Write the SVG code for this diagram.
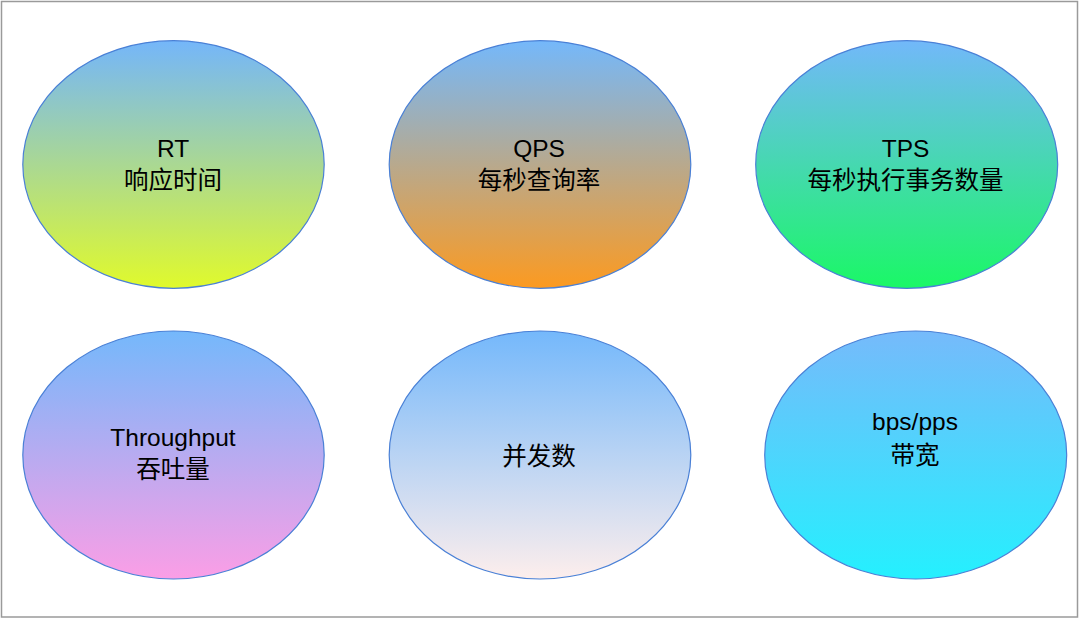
<svg xmlns="http://www.w3.org/2000/svg" width="1080" height="619" viewBox="0 0 1080 619">
<style>
.node ellipse{stroke:#4a80d6;stroke-width:1.2}
text{font-family:"Liberation Sans","Noto Sans CJK SC",sans-serif;font-size:24.5px;fill:#000;text-anchor:middle}
</style>
<defs>
<linearGradient id="g1" x1="0" y1="0" x2="0" y2="1"><stop offset="0" stop-color="#74b6fa"/><stop offset="1" stop-color="#e0fa2c"/></linearGradient>
<linearGradient id="g2" x1="0" y1="0" x2="0" y2="1"><stop offset="0" stop-color="#74b8fb"/><stop offset="1" stop-color="#fc9a20"/></linearGradient>
<linearGradient id="g3" x1="0" y1="0" x2="0" y2="1"><stop offset="0" stop-color="#72b8fa"/><stop offset="1" stop-color="#1af866"/></linearGradient>
<linearGradient id="g4" x1="0" y1="0" x2="0" y2="1"><stop offset="0" stop-color="#74b8fb"/><stop offset="1" stop-color="#fb9ee6"/></linearGradient>
<linearGradient id="g5" x1="0" y1="0" x2="0" y2="1"><stop offset="0" stop-color="#74b8fb"/><stop offset="1" stop-color="#fdeeec"/></linearGradient>
<linearGradient id="g6" x1="0" y1="0" x2="0" y2="1"><stop offset="0" stop-color="#76bafb"/><stop offset="1" stop-color="#24f0fe"/></linearGradient>
</defs>
<rect x="0" y="0" width="1080" height="619" fill="#fff"/>
<rect x="1.5" y="1.5" width="1076" height="615.5" fill="none" stroke="#9a9a9a" stroke-width="1.5"/>
<g id="connectors"></g>
<g id="rt" class="node"><ellipse cx="173.5" cy="164.5" rx="150.7" ry="123.8" fill="url(#g1)"/><text x="173" y="157">RT</text><text x="173" y="189">响应时间</text></g>
<g id="qps" class="node"><ellipse cx="540" cy="164.5" rx="150.8" ry="123.8" fill="url(#g2)"/><text x="539" y="157">QPS</text><text x="539" y="189">每秒查询率</text></g>
<g id="tps" class="node"><ellipse cx="906.7" cy="164.5" rx="151" ry="123.8" fill="url(#g3)"/><text x="905.5" y="157">TPS</text><text x="905.5" y="189">每秒执行事务数量</text></g>
<g id="throughput" class="node"><ellipse cx="173.5" cy="455" rx="150.7" ry="124" fill="url(#g4)"/><text x="173" y="446">Throughput</text><text x="173" y="478">吞吐量</text></g>
<g id="concurrency" class="node"><ellipse cx="540" cy="455" rx="150.8" ry="124" fill="url(#g5)"/><text x="539" y="465">并发数</text></g>
<g id="bandwidth" class="node"><ellipse cx="915.7" cy="455" rx="151" ry="124" fill="url(#g6)"/><text x="915" y="430">bps/pps</text><text x="915" y="464">带宽</text></g>
</svg>
